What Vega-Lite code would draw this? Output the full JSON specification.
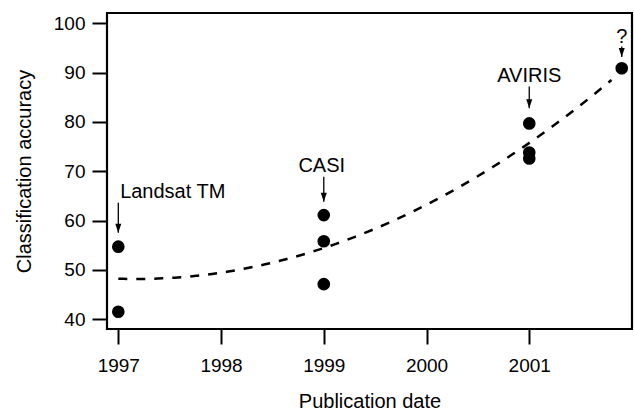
{
  "$schema": "https://vega.github.io/schema/vega-lite/v6.json",
  "width": 525,
  "height": 316,
  "autosize": {"type": "none"},
  "padding": {"left": 107, "top": 13, "right": 2, "bottom": 85},
  "background": "white",
  "config": {
    "font": "Liberation Sans",
    "view": {"stroke": "black", "strokeWidth": 2.2},
    "axis": {
      "grid": false,
      "domain": false,
      "tickColor": "black",
      "tickWidth": 2,
      "tickSize": 15,
      "labelColor": "black",
      "labelFontSize": 19,
      "titleColor": "black",
      "titleFontSize": 20,
      "titleFontWeight": "normal"
    }
  },
  "datasets": {
    "points": [
      {"year": 1997, "acc": 54.7},
      {"year": 1997, "acc": 41.5},
      {"year": 1999, "acc": 61.1},
      {"year": 1999, "acc": 55.8},
      {"year": 1999, "acc": 47.1},
      {"year": 2001, "acc": 79.7},
      {"year": 2001, "acc": 73.8},
      {"year": 2001, "acc": 72.6},
      {"year": 2001.9, "acc": 90.9}
    ],
    "notes": [
      {"label": "Landsat TM", "textYear": 1997.53, "textAcc": 64.6, "year": 1997, "top": 63.6, "tip": 57.5},
      {"label": "CASI", "textYear": 1998.98, "textAcc": 69.9, "year": 1999, "top": 68.9, "tip": 63.8},
      {"label": "AVIRIS", "textYear": 2001, "textAcc": 88.2, "year": 2001, "top": 87.2, "tip": 82.8},
      {"label": "?", "textYear": 2001.9, "textAcc": 96.0, "year": 2001.9, "top": 95.3, "tip": 93.2}
    ]
  },
  "layer": [
    {
      "data": {"name": "points"},
      "transform": [
        {"regression": "acc", "on": "year", "method": "poly", "order": 2, "extent": [1997, 2001.8]}
      ],
      "mark": {"type": "line", "color": "black", "strokeWidth": 2.5, "strokeDash": [9, 9], "interpolate": "monotone"},
      "encoding": {
        "x": {
          "field": "year", "type": "quantitative",
          "scale": {"domain": [1996.89, 2002.0], "nice": false, "zero": false},
          "axis": {"values": [1997, 1998, 1999, 2000, 2001], "format": "d", "title": "Publication date", "labelPadding": 12, "titlePadding": 16}
        },
        "y": {
          "field": "acc", "type": "quantitative",
          "scale": {"domain": [38, 102.1], "nice": false, "zero": false},
          "axis": {"values": [40, 50, 60, 70, 80, 90, 100], "title": "Classification accuracy", "labelPadding": 7, "titlePadding": 19}
        }
      }
    },
    {
      "data": {"name": "points"},
      "mark": {"type": "point", "shape": "circle", "filled": true, "color": "black", "opacity": 1, "size": 160},
      "encoding": {
        "x": {"field": "year", "type": "quantitative"},
        "y": {"field": "acc", "type": "quantitative"}
      }
    },
    {
      "data": {"name": "notes"},
      "mark": {"type": "rule", "color": "black", "strokeWidth": 1.3},
      "encoding": {
        "x": {"field": "year", "type": "quantitative"},
        "y": {"field": "top", "type": "quantitative"},
        "y2": {"field": "tip"}
      }
    },
    {
      "data": {"name": "notes"},
      "mark": {"type": "point", "shape": "M-1,-3L1,-3L0,0Z", "filled": true, "color": "black", "opacity": 1, "size": 36, "strokeWidth": 0},
      "encoding": {
        "x": {"field": "year", "type": "quantitative"},
        "y": {"field": "tip", "type": "quantitative"}
      }
    },
    {
      "data": {"name": "notes"},
      "mark": {"type": "text", "color": "black", "fontSize": 20, "align": "center", "baseline": "alphabetic"},
      "encoding": {
        "x": {"field": "textYear", "type": "quantitative"},
        "y": {"field": "textAcc", "type": "quantitative"},
        "text": {"field": "label"}
      }
    }
  ]
}
